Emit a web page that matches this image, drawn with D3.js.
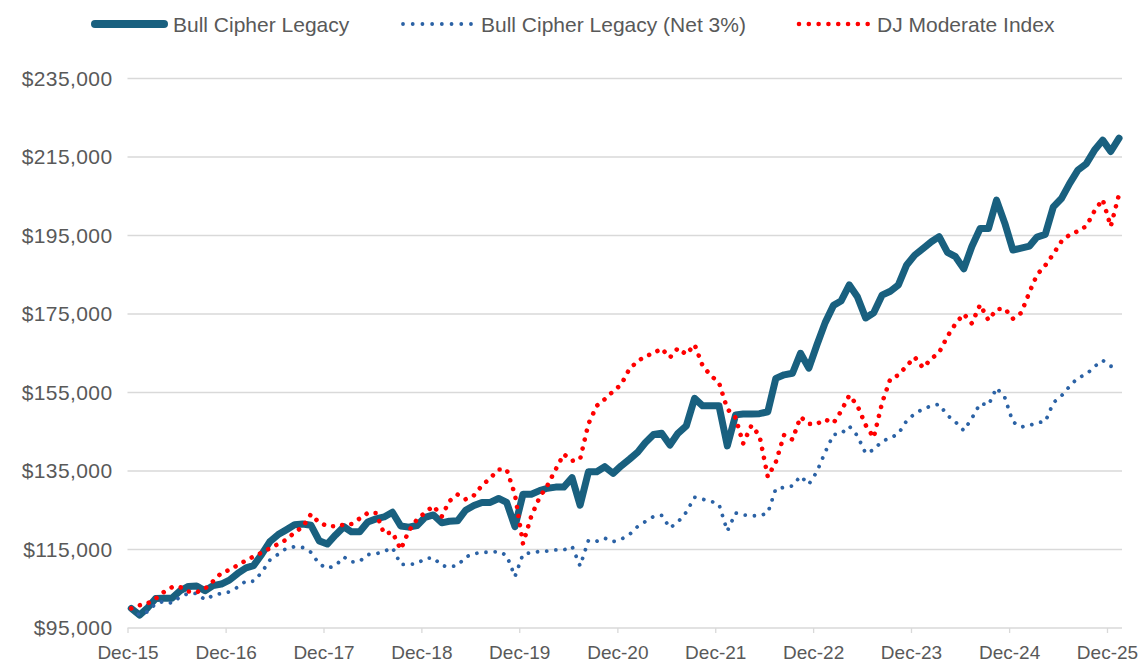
<!DOCTYPE html>
<html>
<head>
<meta charset="utf-8">
<script src="https://cdn.jsdelivr.net/npm/d3@7"></script>
<style>
  body { margin: 0; background: #fff; }
  text { font-family: "Liberation Sans", Arial, sans-serif; fill: #595959; }
</style>
</head>
<body>
<svg id="chart" width="1147" height="668"></svg>
<script>
// monthly values, Dec-15 .. Jan-26 (thousands of dollars)
const legacy = [
  100, 98.3, 100.2, 102.5, 102.6, 102.6, 104.5, 105.6, 105.7, 104.5, 105.8, 106.2,
  107.2, 108.9, 110.3, 110.9, 113.8, 117, 118.8, 120, 121.3, 121.5, 121.2, 117.2,
  116.4, 118.7, 120.8, 119.5, 119.5, 122, 122.8, 123.3, 124.5, 121, 120.7, 121.1,
  123.2, 123.8, 121.8, 122.2, 122.3, 125, 126.2, 127, 127, 128, 127, 120.8,
  129.1, 129.1, 130, 130.6, 130.9, 130.9, 133.3, 126.3, 134.8, 134.8, 136.1, 134.4,
  136.3, 138, 139.8, 142.2, 144.3, 144.6, 141.6, 144.6, 146.5, 153.5, 151.6, 151.6,
  151.6, 141.4, 149.3, 149.5, 149.5, 149.6, 150.1, 158.6, 159.5, 159.9, 165, 161.2,
  167.1, 172.8, 177.2, 178.3, 182.4, 179.4, 174, 175.3, 179.8, 180.8, 182.4, 187.5,
  190, 191.7, 193.4, 194.7, 190.7, 189.6, 186.5, 192.2, 196.8, 196.8, 204, 198.1,
  191.3, 191.8, 192.3, 194.6, 195.3, 202.3, 204.5, 208.3, 211.7, 213.3, 216.7, 219.3,
  216.4, 219.8
];
const legacyNet = [
  100, 98.3, 99.2, 101.2, 101.8, 101.3, 103, 103.8, 103.8, 102.2, 103.3, 103.8,
  104.2, 105.4, 107, 106.9, 109.2, 112.3, 113.8, 115.3, 115.7, 115.5, 114.3, 111.3,
  110.2, 110.9, 113.1, 111.8, 112, 113.7, 113.9, 114.5, 115.5, 111.2, 111.2, 111.4,
  112.7, 112.9, 110.9, 110.6, 110.9, 113.1, 113.9, 114.3, 114.3, 114.5, 113.5, 108.1,
  113.8, 114.2, 114.5, 114.6, 114.9, 114.9, 115.8, 110.8, 117.3, 117.1, 117.9, 117,
  117.6, 118.8, 120.9, 122.1, 123.4, 123.7, 120.5, 122, 124.5, 128.3, 127.8, 127.3,
  126.5, 119.7, 124.3, 123.8, 123.6, 123.6, 124.3, 130.5, 130.8, 131.2, 133.7, 131.6,
  134.8, 139.8, 144.3, 144.5, 146.4, 144, 139.5, 140.4, 142.6, 143.4, 144.5, 147.8,
  149.6, 150.8, 151.6, 152, 149.2, 147.5, 145.3, 148.4, 152.2, 151.8, 156.2, 153.7,
  147.5, 146.2, 146.6, 147.3, 147.6, 152.4, 154.2, 156.6, 158.8, 159.6, 161.6, 163.2,
  161.7, 161.4
];
const djModerate = [
  100, 100.8, 101.3, 102.5, 104.2, 105.4, 105.4, 104.3, 104.1, 105, 106.9, 109,
  109.8, 111, 112.2, 113.2, 114.2, 115.3, 116.4, 117.5, 119.3, 120.8, 124, 121.8,
  121, 120.9, 121.3, 121.5, 122.9, 124.3, 124.3, 119, 119.4, 115, 119.7, 122.7,
  124.4, 126.1, 123.4, 127.3, 129, 127.8, 128.8, 131.3, 133.2, 135.4, 135.4, 129,
  116.5, 123.5, 128.3, 131.3, 135.4, 139.3, 137.6, 138, 147, 151.6, 153.3, 155.3,
  157, 161, 163, 164.2, 165, 166.2, 163.9, 166.3, 164.7, 167.2, 161.8, 159.3,
  157.5, 150.8, 148.6, 142, 146.6, 144, 133.5, 137.3, 144.2, 143, 148.8, 147,
  147, 148.1, 147.2, 150.2, 154.3, 151.7, 146.7, 143.5, 152.3, 158.5, 159.4, 161.8,
  164, 161.3, 163.6, 165.2, 169.3, 172.5, 175, 172.6, 177.4, 173.4, 176.2, 176.4,
  173.8, 175.3, 180.6, 185, 187.4, 190.3, 193.6, 195.2, 196.1, 197.4, 201.2, 204.2,
  197.3, 205.5
];
const seriesNames = ["Bull Cipher Legacy", "Bull Cipher Legacy (Net 3%)", "DJ Moderate Index"];
const xTickLabels = ["Dec-15", "Dec-16", "Dec-17", "Dec-18", "Dec-19", "Dec-20",
                     "Dec-21", "Dec-22", "Dec-23", "Dec-24", "Dec-25"];
const yTicks = [95000, 115000, 135000, 155000, 175000, 195000, 215000, 235000];

const svg = d3.select("#chart");
const plotL = 127.5, plotR = 1122, plotT = 78.5, plotB = 628;

// each monthly point sits mid-month, ticks sit on the 1st of December
const monthDate = i => new Date(2015, 11 + i, 15);
const tickDates = xTickLabels.map((d, i) => new Date(2015 + i, 11, 1));

const x = d3.scaleTime()
  .domain([new Date(2015, 11, 1), new Date(2026, 0, 26)])
  .range([plotL, plotR]);
const y = d3.scaleLinear().domain([95000, 235000]).range([plotB, plotT]);

// gridlines
svg.append("g")
  .selectAll("line")
  .data(yTicks.slice(1))
  .join("line")
  .attr("x1", plotL).attr("x2", plotR)
  .attr("y1", d => y(d)).attr("y2", d => y(d))
  .attr("stroke", "#d9d9d9").attr("stroke-width", 1.3);

// y axis labels
const yAxis = svg.append("g")
  .attr("transform", `translate(${plotL},0)`)
  .call(d3.axisLeft(y).tickValues(yTicks).tickSize(0).tickPadding(15)
    .tickFormat(d => "$" + d3.format(",")(d)));
yAxis.select(".domain").remove();
yAxis.selectAll("text").style("font-size", "21px").attr("fill", "#595959")
  .style("letter-spacing", "0.4px")
  .style("font-family", "'Liberation Sans', Arial, sans-serif");

// x axis
const xAxis = svg.append("g")
  .attr("transform", `translate(0,${plotB})`)
  .call(d3.axisBottom(x).tickValues(tickDates).tickSize(5).tickSizeOuter(0).tickPadding(13)
    .tickFormat((d, i) => xTickLabels[i]));
xAxis.select(".domain").attr("stroke", "#d9d9d9").attr("stroke-width", 1.5)
  .attr("d", `M${plotL},0H${plotR}`);
xAxis.selectAll(".tick line").attr("stroke", "#d9d9d9").attr("stroke-width", 1.3);
xAxis.selectAll("text").style("font-size", "19px").attr("fill", "#595959")
  .style("font-family", "'Liberation Sans', Arial, sans-serif");

const line = d3.line()
  .x((d, i) => x(monthDate(i)))
  .y(d => y(d * 1000));

svg.append("path").datum(legacy)
  .attr("d", line).attr("fill", "none")
  .attr("stroke", "#19607f").attr("stroke-width", 7)
  .attr("stroke-linejoin", "round").attr("stroke-linecap", "round");

svg.append("path").datum(legacyNet)
  .attr("d", line).attr("fill", "none")
  .attr("stroke", "#2b62a5").attr("stroke-width", 3.8)
  .attr("stroke-dasharray", "0.01 9.2").attr("stroke-linecap", "round");

svg.append("path").datum(djModerate)
  .attr("d", line).attr("fill", "none")
  .attr("stroke", "#ff0000").attr("stroke-width", 4.6)
  .attr("stroke-dasharray", "0.01 9.2").attr("stroke-linecap", "round");

// legend
const legend = [
  { name: seriesNames[0], x1: 95, x2: 164, tx: 173, color: "#19607f", w: 8, dash: null },
  { name: seriesNames[1], x1: 403, x2: 471, tx: 481, color: "#2b62a5", w: 3.8, dash: "0.01 9.7" },
  { name: seriesNames[2], x1: 799, x2: 868, tx: 877, color: "#ff0000", w: 4.6, dash: "0.01 9.8" }
];
const lg = svg.append("g").selectAll("g").data(legend).join("g");
lg.append("line")
  .attr("x1", d => d.x1).attr("x2", d => d.x2).attr("y1", 24).attr("y2", 24)
  .attr("stroke", d => d.color).attr("stroke-width", d => d.w)
  .attr("stroke-linecap", "round")
  .attr("stroke-dasharray", d => d.dash);
lg.append("text")
  .attr("x", d => d.tx).attr("y", 31.5)
  .style("font-size", "21px")
  .text(d => d.name);
</script>
</body>
</html>
